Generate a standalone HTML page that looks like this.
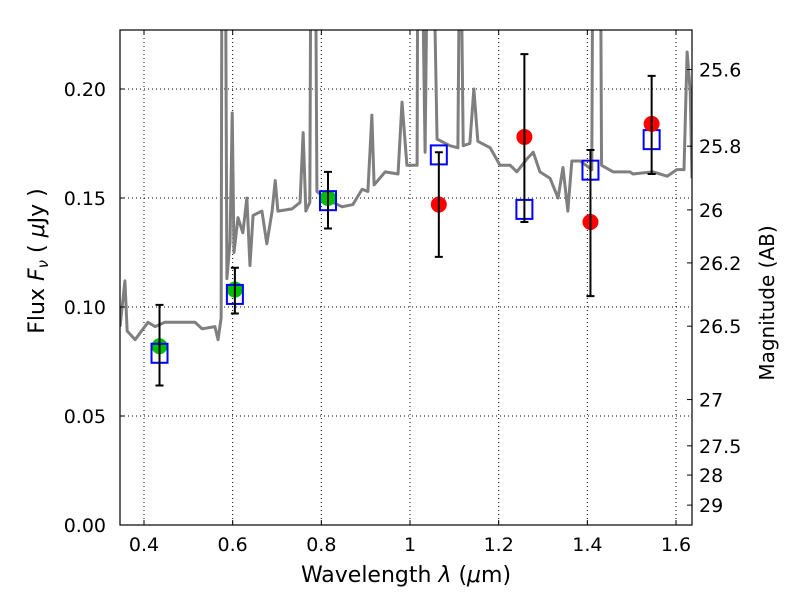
<!DOCTYPE html>
<html><head><meta charset="utf-8"><style>
body{margin:0;background:#fff;}
svg text{font-family:"DejaVu Sans","Liberation Sans",sans-serif;}
</style></head><body>
<svg id="chart" width="800" height="600" xmlns="http://www.w3.org/2000/svg">
<defs><clipPath id="clip"><rect x="120" y="30" width="572" height="495"/></clipPath></defs>
<rect x="0" y="0" width="800" height="600" fill="#fff"/>
<g id="grid"></g>
<g id="spec" clip-path="url(#clip)"></g>
<g id="marks"></g>
<rect x="120" y="30" width="572" height="495" fill="none" stroke="#000" stroke-width="1.2"/>
<g id="axes"></g>
<text x="406" y="582" font-size="22" text-anchor="middle">Wavelength  <tspan font-style="italic">λ</tspan> (<tspan font-style="italic">μ</tspan>m)</text>
<text transform="translate(44,261) rotate(-90)" font-size="22" text-anchor="middle">Flux  <tspan font-style="italic">F<tspan font-size="15" dy="4">ν</tspan></tspan><tspan dy="-4">  ( </tspan><tspan font-style="italic">μ</tspan>Jy )</text>
<text transform="translate(774,303) rotate(-90)" font-size="20" text-anchor="middle">Magnitude (AB)</text>
</svg>
<script>
const specLam=[0.346,0.357,0.362,0.380,0.409,0.425,0.447,0.486,0.515,0.531,0.560,0.567,0.574,0.576,0.583,0.587,0.594,0.599,0.603,0.612,0.623,0.632,0.639,0.646,0.666,0.677,0.689,0.696,0.702,0.734,0.752,0.759,0.765,0.774,0.777,0.786,0.790,0.815,0.847,0.871,0.892,0.905,0.914,0.919,0.944,0.973,0.982,0.993,1.011,1.016,1.018,1.025,1.034,1.041,1.050,1.061,1.090,1.108,1.113,1.120,1.135,1.144,1.153,1.181,1.203,1.226,1.241,1.264,1.278,1.293,1.316,1.334,1.345,1.356,1.365,1.384,1.410,1.413,1.429,1.432,1.458,1.496,1.503,1.548,1.580,1.602,1.609,1.618,1.625,1.632,1.636];
const specFlux=[0.091,0.112,0.089,0.085,0.093,0.091,0.093,0.093,0.093,0.090,0.091,0.085,0.095,0.30,0.30,0.113,0.130,0.189,0.125,0.141,0.134,0.150,0.119,0.142,0.144,0.129,0.144,0.158,0.144,0.145,0.148,0.180,0.144,0.148,0.30,0.30,0.153,0.149,0.146,0.147,0.154,0.153,0.188,0.156,0.162,0.161,0.194,0.165,0.165,0.165,0.30,0.30,0.171,0.30,0.30,0.177,0.174,0.173,0.30,0.174,0.175,0.200,0.176,0.173,0.165,0.165,0.162,0.168,0.171,0.162,0.159,0.150,0.164,0.144,0.167,0.167,0.163,0.30,0.30,0.165,0.162,0.162,0.161,0.162,0.160,0.163,0.163,0.163,0.217,0.199,0.159];
const greenLam=[0.435,0.605,0.815];
const greenFlux=[0.082,0.108,0.150];
const modelLam=[0.435,0.605,0.815,1.065,1.258,1.407,1.545];
const modelFlux=[0.079,0.106,0.149,0.170,0.145,0.163,0.177];
const redLam=[1.065,1.258,1.407,1.545];
const redFlux=[0.147,0.178,0.139,0.184];
const errLam=[0.435,0.605,0.815,1.065,1.258,1.407,1.545];
const errHi=[0.101,0.118,0.162,0.171,0.216,0.172,0.206];
const errLo=[0.064,0.097,0.136,0.123,0.139,0.105,0.161];
const xTicks=[0.4,0.6,0.8,1.0,1.2,1.4,1.6];
const xTickLabels=["0.4","0.6","0.8","1","1.2","1.4","1.6"];
const yTicks=[0,0.05,0.10,0.15,0.20];
const yTickLabels=["0.00","0.05","0.10","0.15","0.20"];
const magTicks=[25.6,25.8,26,26.2,26.5,27,27.5,28,29];
const magTickLabels=["25.6","25.8","26","26.2","26.5","27","27.5","28","29"];

const NS="http://www.w3.org/2000/svg";
function xs(l){return 144+(l-0.4)/0.2*88.67;}
function ys(f){return 525-f/0.05*109;}
function mk(t,a,p){const e=document.createElementNS(NS,t);for(const k in a)e.setAttribute(k,a[k]);(p||document.getElementById('chart')).appendChild(e);return e;}
const grid=document.getElementById('grid'),axes=document.getElementById('axes'),spec=document.getElementById('spec'),marks=document.getElementById('marks');
xTicks.forEach((v,i)=>{const x=xs(v);
 const g=mk('line',{x1:x,x2:x,y1:30,y2:525,stroke:'#000','stroke-width':1,'stroke-dasharray':'1,3'},grid);
 
 
 mk('line',{x1:x,x2:x,y1:525,y2:520,stroke:'#000'},axes);
 mk('line',{x1:x,x2:x,y1:30,y2:35,stroke:'#000'},axes);
 const t=mk('text',{x:x,y:551,'font-size':19,'text-anchor':'middle'},axes);t.textContent=xTickLabels[i];
 
 
});
yTicks.forEach((v,i)=>{const y=ys(v);
 const g=mk('line',{x1:120,x2:692,y1:y,y2:y,stroke:'#000','stroke-width':1,'stroke-dasharray':'1,3'},grid);
 
 
 mk('line',{x1:120,x2:125,y1:y,y2:y,stroke:'#000'},axes);
 const t=mk('text',{x:106,y:y+7,'font-size':19,'text-anchor':'end'},axes);t.textContent=yTickLabels[i];
 
 
});
magTicks.forEach((m,i)=>{const y=ys(Math.pow(10,(23.9-m)/2.5));
 mk('line',{x1:687,x2:692,y1:y,y2:y,stroke:'#000'},axes);
 const t=mk('text',{x:699,y:y+7,'font-size':19},axes);t.textContent=magTickLabels[i];
 
 
});
const p=mk('polyline',{points:specLam.map((l,i)=>xs(l)+','+ys(specFlux[i])).join(' '),fill:'none',stroke:'#7f7f7f','stroke-width':3,'stroke-linejoin':'round'},spec);


greenLam.forEach((l,i)=>{const c=mk('circle',{cx:xs(l),cy:ys(greenFlux[i]),r:8,fill:'#00bf00'},marks);
 
 });
modelLam.forEach((l,i)=>{const r=mk('rect',{x:xs(l)-8,y:ys(modelFlux[i])-9,width:16,height:19,fill:'none',stroke:'#0000ff','stroke-width':2},marks);
 
 });
redLam.forEach((l,i)=>{const c=mk('circle',{cx:xs(l),cy:ys(redFlux[i]),r:8,fill:'#ff0000'},marks);
 
 });
errLam.forEach((l,i)=>{const x=xs(l),a=ys(errHi[i]),b=ys(errLo[i]);
 const e=mk('path',{d:`M${x},${a}V${b}M${x-4},${a}H${x+4}M${x-4},${b}H${x+4}`,stroke:'#000','stroke-width':2,fill:'none'},marks);
 
 });
</script>
</body></html>
